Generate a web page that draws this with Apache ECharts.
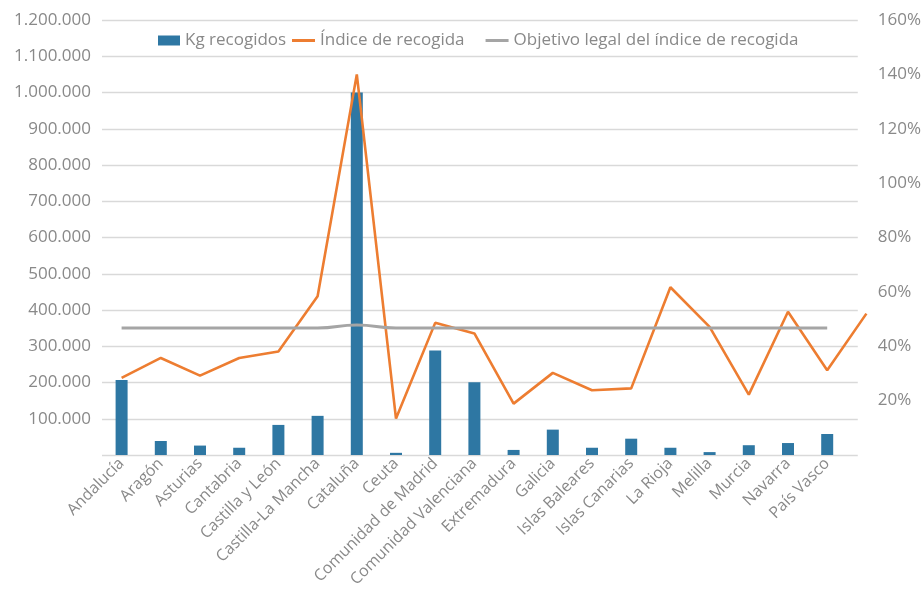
<!DOCTYPE html>
<html>
<head>
<meta charset="utf-8">
<script src="https://cdn.jsdelivr.net/npm/echarts@6/dist/echarts.min.js"></script>
<style>
  html, body { margin: 0; padding: 0; background: #fff; }
  #main { width: 924px; height: 594px; }
</style>
</head>
<body>
<div id="main"></div>
<script>
var myChart = echarts.init(document.getElementById('main'));

// comunidades (the last slot is empty in the original sheet)
var categories = [
  'Andalucía', 'Aragón', 'Asturias', 'Cantabria', 'Castilla y León',
  'Castilla-La Mancha', 'Cataluña', 'Ceuta', 'Comunidad de Madrid',
  'Comunidad Valenciana', 'Extremadura', 'Galicia', 'Islas Baleares',
  'Islas Canarias', 'La Rioja', 'Melilla', 'Murcia', 'Navarra', 'País Vasco', ''
];

var kgRecogidos = [
  207000, 38700, 26000, 20000, 83000, 108000, 1000000, 6000, 288000,
  201000, 14000, 70000, 20000, 45000, 20000, 8000, 27000, 33000, 58000, null
];

var indiceRecogida = [
  0.284, 0.357, 0.292, 0.357, 0.381, 0.584, 1.40, 0.134, 0.486,
  0.447, 0.189, 0.302, 0.238, 0.245, 0.617, 0.471, 0.222, 0.527, 0.312, 0.52
];

var objetivoLegal = [
  0.467, 0.467, 0.467, 0.467, 0.467, 0.467, 0.478, 0.467, 0.467,
  0.467, 0.467, 0.467, 0.467, 0.467, 0.467, 0.467, 0.467, 0.467, 0.467, null
];

var kgTicks = { min: 0, max: 1200000, interval: 100000 };
var pctTicks = { min: 0, max: 1.6, interval: 0.2 };

var grey = '#898989';
var font = '"Open Sans", "DejaVu Sans", sans-serif';
var colores = { kg: '#2e77a3', indice: '#ed7d31', objetivo: '#a5a5a5' };

function miles(v) {
  if (v === 0) return '';
  return String(v).replace(/\B(?=(\d{3})+(?!\d))/g, '.');
}

var legendText = { color: grey, fontSize: 17, fontFamily: font };

var option = {
  backgroundColor: '#fff',
  animation: false,
  textStyle: { fontFamily: font },
  // two legends: the bar swatch is taller than the line swatches
  legend: [
    {
      top: 27,
      left: 153,
      itemWidth: 22,
      itemHeight: 10,
      icon: 'rect',
      textStyle: legendText,
      data: ['Kg recogidos']
    },
    {
      top: 27,
      left: 287,
      itemWidth: 23,
      itemHeight: 3,
      itemGap: 21,
      icon: 'rect',
      textStyle: legendText,
      data: ['Índice de recogida', 'Objetivo legal del índice de recogida']
    }
  ],
  // grid 0 holds the data (20 slots), grid 1 only draws the axes and gridlines
  grid: [
    { left: 102, right: 38, top: 20, bottom: 139 },
    { left: 102, right: 55, top: 20, bottom: 139 }
  ],
  xAxis: [
    {
      type: 'category',
      gridIndex: 0,
      data: categories,
      axisLine: { show: false },
      axisTick: { show: false },
      axisLabel: {
        interval: 0,
        rotate: 45,
        margin: 6,
        color: grey,
        fontSize: 16,
        fontFamily: font
      }
    },
    { type: 'value', gridIndex: 1, min: 0, max: 1, show: false }
  ],
  yAxis: [
    {
      type: 'value', gridIndex: 0, show: false,
      min: kgTicks.min, max: kgTicks.max, interval: kgTicks.interval
    },
    {
      type: 'value', gridIndex: 0, show: false,
      min: pctTicks.min, max: pctTicks.max, interval: pctTicks.interval
    },
    {
      type: 'value', gridIndex: 1, position: 'left',
      min: kgTicks.min, max: kgTicks.max, interval: kgTicks.interval,
      axisLine: { show: false },
      axisTick: { show: false },
      axisLabel: { color: grey, fontSize: 17, fontFamily: font, margin: 11, formatter: miles },
      splitLine: { lineStyle: { color: '#d9d9d9', width: 1.3 } }
    },
    {
      type: 'value', gridIndex: 1, position: 'right',
      min: pctTicks.min, max: pctTicks.max, interval: pctTicks.interval,
      axisLine: { show: false },
      axisTick: { show: false },
      splitLine: { show: false },
      axisLabel: {
        color: grey, fontSize: 17, fontFamily: font, margin: 20,
        formatter: function (v) { return v === 0 ? '' : Math.round(v * 100) + '%'; }
      }
    }
  ],
  series: [
    {
      name: 'Kg recogidos',
      type: 'bar',
      xAxisIndex: 0,
      yAxisIndex: 0,
      barWidth: 12,
      itemStyle: { color: colores.kg },
      data: kgRecogidos
    },
    {
      name: 'Índice de recogida',
      type: 'line',
      xAxisIndex: 0,
      yAxisIndex: 1,
      symbol: 'none',
      lineStyle: { color: colores.indice, width: 2.6 },
      itemStyle: { color: colores.indice },
      data: indiceRecogida
    },
    {
      name: 'Objetivo legal del índice de recogida',
      type: 'line',
      xAxisIndex: 0,
      yAxisIndex: 1,
      symbol: 'none',
      smooth: true,
      lineStyle: { color: colores.objetivo, width: 3 },
      itemStyle: { color: colores.objetivo },
      data: objetivoLegal
    }
  ]
};

myChart.setOption(option);
</script>
</body>
</html>
